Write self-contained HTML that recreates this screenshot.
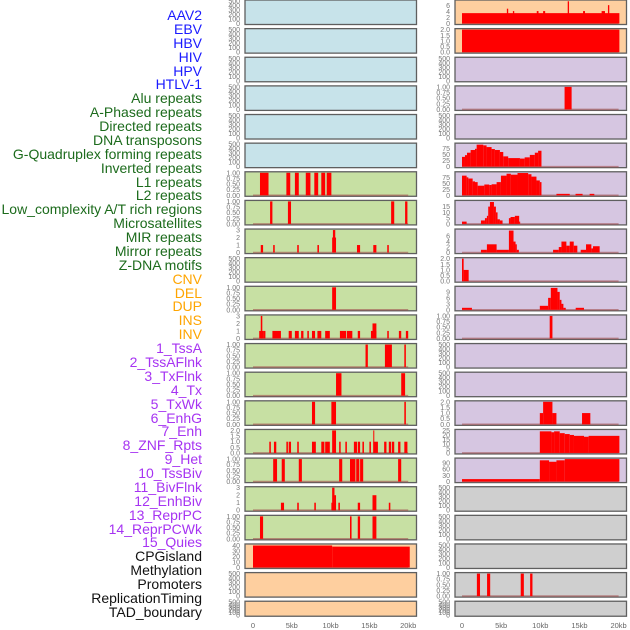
<!DOCTYPE html>
<html><head><meta charset="utf-8"><style>
html,body{margin:0;padding:0;background:#fff;}
#wrap{position:relative;width:630px;height:630px;overflow:hidden;}
.lbl{position:absolute;right:428px;font:14px "Liberation Sans",sans-serif;white-space:nowrap;line-height:14px;}
svg{position:absolute;left:0;top:0;}
</style></head><body>
<div id="wrap">
<div id="labels"></div>
<svg id="chart" width="630" height="630"></svg>
</div>
<script>
// ---- labels ----
const trackNames = ["AAV2","EBV","HBV","HIV","HPV","HTLV-1","Alu repeats","A-Phased repeats","Directed repeats","DNA transposons","G-Quadruplex forming repeats","Inverted repeats","L1 repeats","L2 repeats","Low_complexity A/T rich regions","Microsatellites","MIR repeats","Mirror repeats","Z-DNA motifs","CNV","DEL","DUP","INS","INV","1_TssA","2_TssAFlnk","3_TxFlnk","4_Tx","5_TxWk","6_EnhG","7_Enh","8_ZNF_Rpts","9_Het","10_TssBiv","11_BivFlnk","12_EnhBiv","13_ReprPC","14_ReprPCWk","15_Quies","CPGisland","Methylation","Promoters","ReplicationTiming","TAD_boundary"];
const trackGroups = ["v","v","v","v","v","v","r","r","r","r","r","r","r","r","r","r","r","r","r","s","s","s","s","s","c","c","c","c","c","c","c","c","c","c","c","c","c","c","c","o","o","o","o","o"];

// ---- panel data (segments: [startKb, endKb, value]) ----
const segL1 = [[0.9,2.0,1],[4.3,4.8,1],[5.4,5.9,1],[6.8,7.4,1],[7.9,8.4,1],[8.8,9.3,1],[9.5,10.1,1]];
const segLowC = [[2.2,2.5,1],[4.5,4.9,1],[17.8,18.2,1],[19.6,19.9,1]];
const segMIR = [[1.0,1.3,1],[2.6,2.8,1],[5.7,5.9,1],[8.3,8.5,1],[10.2,10.7,2],[10.3,10.6,3],[13.4,13.8,1],[15.5,15.9,1],[17.3,17.5,1]];
const segDEL = [[10.2,10.7,1]];
const segINSl = [[0.8,1.3,1],[1.0,1.2,3],[1.3,1.6,1],[2.5,3.6,1],[4.6,5.0,1],[5.4,5.9,1],[6.2,6.5,1],[7.0,7.2,1],[7.6,8.0,1],[8.3,8.8,1],[9.3,9.9,1],[11.2,12.0,1],[12.1,12.8,1],[13.5,13.8,1],[15.2,15.9,1],[15.4,15.9,2],[17.3,17.5,1],[18.8,19.1,1],[19.7,20.0,1]];
const segTssA = [[14.5,14.8,1],[17.0,17.9,1],[19.5,19.7,1]];
const segTxFlnk = [[10.7,11.4,1],[19.1,19.6,1]];
const segTxWk = [[7.6,8.0,1],[10.1,10.7,1],[19.5,19.7,1]];
const segEnh = [[2.1,2.3,1],[2.7,3.0,1],[4.3,4.5,1],[4.6,4.9,1],[5.7,5.9,1],[7.6,8.1,1],[8.8,9.2,1],[9.3,9.9,1],[10.2,10.7,2],[11.1,11.3,1],[11.9,12.1,1],[13.0,13.4,1],[13.5,13.8,1],[14.1,14.3,1],[15.0,15.2,1],[15.5,16.1,1],[15.5,15.6,2],[16.9,17.2,1],[17.5,17.8,1],[17.9,18.2,1],[18.7,19.0,1],[19.5,19.9,1]];
const segHet = [[2.6,3.1,1],[3.7,4.1,1],[5.9,6.3,1],[11.1,11.5,1],[12.5,13.2,1],[13.3,13.7,1],[13.8,14.2,1],[18.7,19.1,1]];
const segBivFlnk = [[3.6,4.0,1],[5.7,5.9,1],[7.9,8.1,1],[10.1,10.7,1],[10.2,10.5,3],[10.5,10.7,2],[11.0,11.2,1],[13.5,13.8,1],[15.4,15.9,2],[17.5,17.7,1]];
const segReprPC = [[0.9,1.3,1],[12.5,12.7,1],[13.5,13.8,1],[15.4,15.9,1]];
const segCNV = [[0,10.2,40],[10.2,20.2,38]];
const segINSr = [[0,20.1,3.5],[5.73,5.9,5],[6.5,6.67,4.2],[9.55,9.77,4.2],[10.36,10.62,4.2],[13.5,13.67,7.5],[15.46,15.71,4.2],[17.83,18.26,4.2],[18.64,18.81,6.2]];
const segINV = [[0,20.1,2]];
const segTssAFlnk = [[13.1,14.0,1]];
const prof5Edges = [0,0.38,0.64,1.1,1.66,1.87,2.72,3.14,3.78,4.2,4.84,5.27,5.9,7.4,8.0,8.66,9.3,9.72,10.15];
const prof5Vals = [40,47,57,68,73,90,87,80,72,68,60,42,35,33,38,48,57,65];
const prof6Edges = [0,0.59,0.81,1.36,1.66,2.0,2.85,3.48,3.78,4.42,4.97,5.69,6.24,7.09,8.45,8.87,9.51,9.94,10.15];
const prof6Vals = [82,75,70,58,55,40,45,43,46,55,82,90,86,93,88,78,62,55];
const segHetExtra = [[12.06,13.76,6],[14.5,15.4,6],[16.3,16.9,6]];
const segEnhG = [[0,0.59,2],[2.42,2.93,3],[2.93,3.18,5],[3.18,3.35,7],[3.35,3.57,15],[3.57,4.08,19],[4.08,4.33,15],[4.33,4.54,10],[4.54,4.84,4],[4.84,5.18,3],[5.99,6.2,5],[6.2,6.75,6],[6.75,7.3,7],[7.3,7.39,2]];
const segZNF = [[2.42,3.18,1],[3.18,4.42,3],[4.42,5.99,1],[5.99,6.58,8],[6.58,6.84,4],[6.84,7.0,3],[7.0,7.26,1],[11.63,12.36,1],[12.36,12.7,2],[12.7,13.33,4],[13.33,13.76,2.5],[13.76,14.27,4],[14.27,14.73,2.5],[15.16,15.84,1],[15.84,16.52,3],[16.52,16.73,1.5],[16.73,17.58,2.3]];
const segHetR = [[0,0.21,2],[0.21,0.85,1]];
const segTssBivR = [[0,1.27,1],[9.94,11.0,2],[11.0,11.34,6],[11.34,12.19,11],[12.19,12.48,9],[12.48,12.7,5],[12.7,12.95,3],[12.95,13.25,1],[14.52,15.58,1]];
const segBivR = [[11.2,11.55,1]];
const segEnhR = [[9.94,10.36,1],[10.36,11.55,2],[11.55,12.06,1],[15.33,16.39,1]];
const prof15Edges = [9.94,11.42,11.76,12.48,13.12,13.76,14.3,15.58,16.17,20.1];
const prof15Vals = [24,23,24,22,21,20,19,18,19];
const prof16Edges = [0,9.94,11.12,12.06,13.12,20.1];
const prof16Vals = [12,103,96,103,109];
const segPromoters = [[1.9,2.3,1],[3.2,3.6,1],[7.5,7.9,1],[8.7,9.0,1]];

const ticksEmpty = [0,100,200,300,400,500];
const ticksUnit = [0,0.25,0.5,0.75,1];
const ticks3 = [0,1,2,3];
const ticks2 = [0,0.5,1,1.5,2];
const xTickKb = [0,5,10,15,20];
const xTickLabels = ["0","5kb","10kb","15kb","20kb"];

function prof(edges, vals){ const s=[]; for(let i=0;i<vals.length;i++) s.push([edges[i],edges[i+1],vals[i]]); return s; }

const B='#c7e3ea', G='#c7e0a3', O='#fecf9f', P='#d6c6e1', Y='#cfcfcf';
const panels = [
 [0,0,B,null,500,ticksEmpty,0],[0,1,B,null,500,ticksEmpty,0],[0,2,B,null,500,ticksEmpty,0],
 [0,3,B,null,500,ticksEmpty,0],[0,4,B,null,500,ticksEmpty,0],[0,5,B,null,500,ticksEmpty,0],
 [0,6,G,segL1,1,ticksUnit,2],[0,7,G,segLowC,1,ticksUnit,2],[0,8,G,segMIR,3,ticks3,0],
 [0,9,G,null,500,ticksEmpty,0],[0,10,G,segDEL,1,ticksUnit,2],[0,11,G,segINSl,3,ticks3,0],
 [0,12,G,segTssA,1,ticksUnit,2],[0,13,G,segTxFlnk,1,ticksUnit,2],[0,14,G,segTxWk,1,ticksUnit,2],
 [0,15,G,segEnh,2,ticks2,1],[0,16,G,segHet,1,ticksUnit,2],[0,17,G,segBivFlnk,3,ticks3,0],
 [0,18,G,segReprPC,1,ticksUnit,2],[0,19,O,segCNV,41,[0,10,20,30,40],0],
 [0,20,O,null,500,ticksEmpty,0],[0,21,O,null,500,ticksEmpty,0],
 [1,0,O,segINSr,7.6,[0,2,4,6],0],[1,1,O,segINV,2,ticks2,1],[1,2,P,null,500,ticksEmpty,0],
 [1,3,P,segTssAFlnk,1,ticksUnit,2],[1,4,P,null,500,ticksEmpty,0],
 [1,5,P,prof(prof5Edges,prof5Vals),92,[0,25,50,75],0],
 [1,6,P,prof(prof6Edges,prof6Vals).concat(segHetExtra),94,[0,25,50,75],0],
 [1,7,P,segEnhG,19.5,[0,5,10,15],0],[1,8,P,segZNF,8.2,[0,2,4,6],0],
 [1,9,P,segHetR,2,ticks2,1],[1,10,P,segTssBivR,11.3,[0,3,6,9],0],
 [1,11,P,segBivR,1,ticksUnit,2],[1,12,P,null,500,ticksEmpty,0],[1,13,P,null,500,ticksEmpty,0],
 [1,14,P,segEnhR,2,ticks2,1],[1,15,P,prof(prof15Edges,prof15Vals),25,[0,5,10,15,20,25],0],
 [1,16,P,prof(prof16Edges,prof16Vals),109,[0,30,60,90],0],
 [1,17,Y,null,500,ticksEmpty,0],[1,18,Y,null,500,ticksEmpty,0],[1,19,Y,null,500,ticksEmpty,0],
 [1,20,Y,segPromoters,1,ticksUnit,2],[1,21,Y,null,500,ticksEmpty,0]
];

const NS='http://www.w3.org/2000/svg';
const svg=document.getElementById('chart');
function mk(tag, attrs){ const e=document.createElementNS(NS,tag); for(const k in attrs) e.setAttribute(k,attrs[k]); svg.appendChild(e); return e; }

const colors={v:'#1a1aff',r:'#1c6b1c',s:'#ffa500',c:'#a633f2',o:'#111'};
const lab=document.getElementById('labels');
trackNames.forEach((t,i)=>{
  const d=document.createElement('div');
  d.className='lbl';
  d.style.top=(8+13.88*i)+'px';
  d.style.color=colors[trackGroups[i]];
  d.textContent=t;
  
  
  lab.appendChild(d);
});

const colX=[245,455];
const x0=[253,462], pxPerKb=[7.76,7.83];
function xs(c,kb){ return x0[c]+kb*pxPerKb[c]; }

panels.forEach(p=>{
  const [c,r,bg,segs,ymax,ticks,dig]=p;
  const top=r*28.63, h=(r===21)?15:24.5;
  const bottom=top+h-1, ytop=top+1;
  const ys=v=>bottom-(v/ymax)*(bottom-ytop);
  const rect=mk('rect',{x:colX[c],y:top,width:171.5,height:h,fill:bg,stroke:'#5f5f5f','stroke-width':1.3});
  
  
  if(segs){
    const bl=mk('line',{x1:xs(c,0),x2:xs(c,20),y1:bottom,y2:bottom,stroke:'#a05050','stroke-width':1.6,'stroke-opacity':0.6});
    
    
    segs.forEach(s=>{
      const b=mk('rect',{x:xs(c,s[0]),y:ys(s[2]),width:Math.max(1,xs(c,s[1])-xs(c,s[0])),height:bottom-ys(s[2]),fill:'#ff0000'});
      
      
    });
  }
  ticks.forEach(t=>{
    const tx=mk('text',{x:colX[c]-5,y:ys(t)+2.5,'text-anchor':'end','font-size':7,fill:'#777','font-family':'Liberation Sans, sans-serif'});
    tx.textContent=t.toFixed(dig);
    
    
  });
});

[0,1].forEach(c=>{
  xTickKb.forEach((k,i)=>{
    const tx=mk('text',{x:xs(c,k),y:628,'text-anchor':'middle','font-size':7.5,fill:'#666','font-family':'Liberation Sans, sans-serif'});
    tx.textContent=xTickLabels[i];
    
    
  });
});
</script>
</body></html>
